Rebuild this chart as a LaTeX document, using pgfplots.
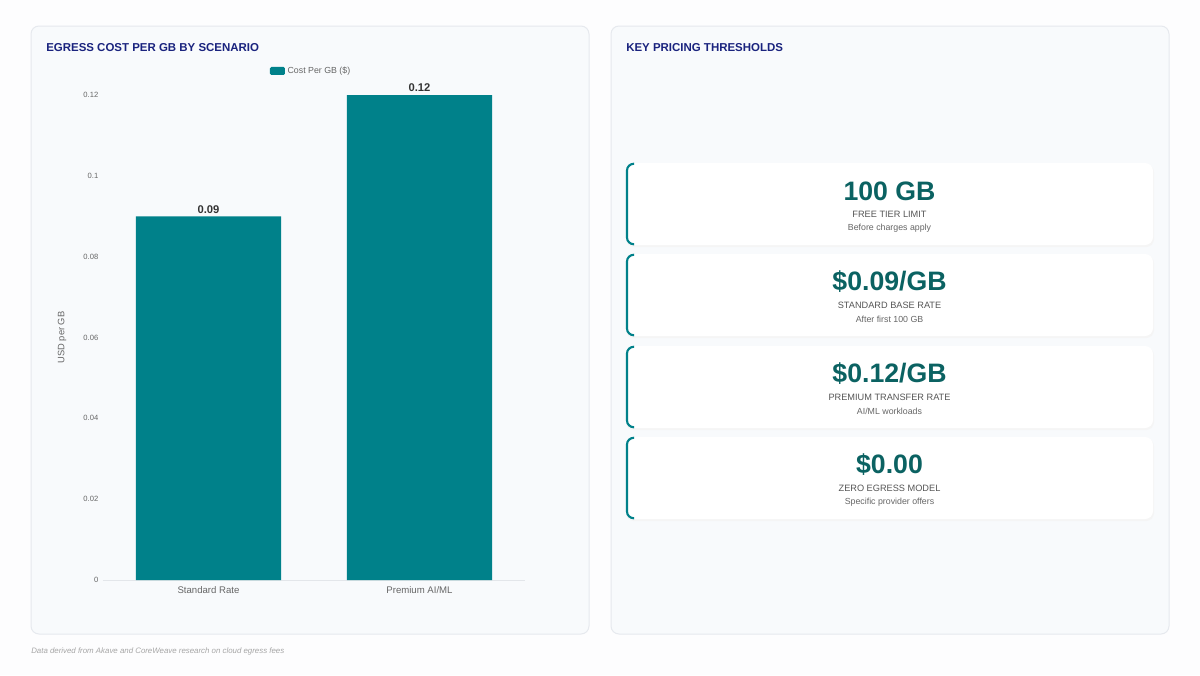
\documentclass[border=0pt]{standalone}
\usepackage{pgfplots}
\pgfplotsset{compat=1.18}
\usepackage{fontspec}
\setmainfont{Liberation Sans}
\definecolor{pagebg}{HTML}{FDFDFE}
\definecolor{panelbg}{HTML}{F8FAFC}
\definecolor{panelborder}{HTML}{E6E9EE}
\definecolor{navy}{HTML}{1A237E}
\definecolor{barcol}{HTML}{00818A}
\definecolor{bignum}{HTML}{0B6262}
\definecolor{ticktxt}{HTML}{666666}
\definecolor{labtxt}{HTML}{555555}
\definecolor{axisline}{HTML}{E3E6EA}
\newcommand{\fs}[1]{\fontsize{#1}{#1}\selectfont}
\begin{document}
\begin{tikzpicture}
\begin{scope}[x=0.75pt,y=-0.75pt]
\useasboundingbox (0,0) rectangle (1200,675);
\fill[pagebg] (0,0) rectangle (1200,675);
% panels
\filldraw[fill=panelbg,draw=panelborder,line width=0.75pt,rounded corners=6pt] (31,26) rectangle (589,634);
\filldraw[fill=panelbg,draw=panelborder,line width=0.75pt,rounded corners=6pt] (611,26) rectangle (1169,634);
% titles
\node[anchor=base west,inner sep=0pt,text=navy,font=\fs{8.6pt}\bfseries] at (46,51) {EGRESS COST PER GB BY SCENARIO};
\node[anchor=base west,inner sep=0pt,text=navy,font=\fs{8.6pt}\bfseries] at (626,51) {KEY PRICING THRESHOLDS};
% cards
\foreach \top/\big/\lab/\sub in {163/{100 GB}/{FREE TIER LIMIT}/{Before charges apply},
  254/{\$0.09/GB}/{STANDARD BASE RATE}/{After first 100 GB},
  346/{\$0.12/GB}/{PREMIUM TRANSFER RATE}/{AI/ML workloads},
  437/{\$0.00}/{ZERO EGRESS MODEL}/{Specific provider offers}}{
  \fill[black!4,rounded corners=6pt] (626,\top+1.5) rectangle (1154,\top+84);
  \fill[white,rounded corners=6pt] (626,\top) rectangle (1153,\top+82);
  \draw[barcol,line width=1.6pt,rounded corners=5pt] (634,\top+0.8) -- (627,\top+0.8) -- (627,\top+81.2) -- (634,\top+81.2);
  \node[anchor=center,inner sep=0pt,text=bignum,font=\fs{20pt}\bfseries] at (889.5,\top+28) {\big};
  \node[anchor=center,inner sep=0pt,text=labtxt,font=\fs{6.9pt}] at (889.5,\top+51.5) {\lab};
  \node[anchor=center,inner sep=0pt,text=ticktxt,font=\fs{6.6pt}] at (889.5,\top+65.5) {\sub};
}
% footnote
\node[anchor=base west,inner sep=0pt,text=black!35,font=\fs{5.9pt}\itshape] at (31,653) {Data derived from Akave and CoreWeave research on cloud egress fees};
\end{scope}
\begin{axis}[
  at={(77.25pt,-435pt)}, anchor=south west,
  scale only axis, width=316.5pt, height=363.75pt,
  xmin=-0.5, xmax=1.5, ymin=0, ymax=0.12,
  axis lines=left, axis line style={-},
  y axis line style={draw=none},
  x axis line style={draw=axisline,line width=0.75pt},
  major tick length=0pt,
  xtick={0,1}, xticklabels={Standard Rate,Premium AI/ML},
  ytick={0,0.02,0.04,0.06,0.08,0.1,0.12},
  scaled y ticks=false,
  yticklabel style={/pgf/number format/fixed,/pgf/number format/precision=2,/pgf/number format/assume math mode=true,font=\fs{5.7pt},text=ticktxt},
  xticklabel style={font=\fs{7.2pt},text=ticktxt,yshift=-1pt},
  ylabel={USD per GB},
  ylabel style={at={(axis description cs:-0.097,0.5)},anchor=center,font=\fs{7pt},text=ticktxt},
  ybar, bar width=108.75pt,
  point meta=explicit symbolic,
  nodes near coords,
  nodes near coords style={font=\fs{8.4pt}\bfseries,text=black!80,inner sep=2pt},
  legend style={draw=none,fill=none,at={(axis description cs:0.395,1.0495)},anchor=west,font=\fs{6.6pt},text=ticktxt,inner sep=0pt},
  legend image code/.code={\fill[barcol,rounded corners=1pt] (0pt,-3pt) rectangle (11.25pt,3pt);},
  clip=false,
]
\addplot[fill=barcol,draw=none] coordinates {(0,0.09) [0.09] (1,0.12) [0.12]};
\addlegendentry{Cost Per GB (\$)}
\end{axis}
\end{tikzpicture}
\end{document}
